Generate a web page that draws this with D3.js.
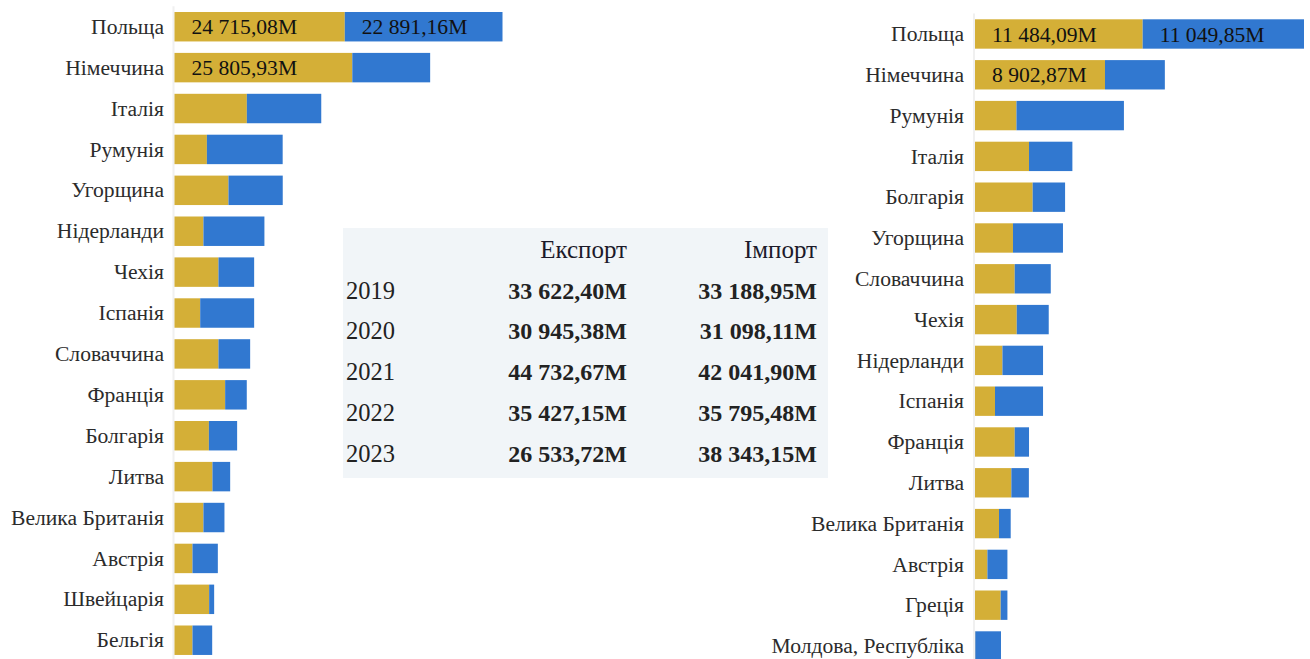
<!DOCTYPE html>
<html><head><meta charset="utf-8">
<script src="https://cdn.jsdelivr.net/npm/d3@7"></script>
<style>
html,body{margin:0;padding:0;background:#fff;}
svg{display:block;}
svg text{font-family:"Liberation Serif","Times New Roman",serif;}
</style></head>
<body>
<svg id="chart" width="1310" height="659"></svg>
<script>
// ---- Data ----
const leftCountries = ["Польща","Німеччина","Італія","Румунія","Угорщина","Нідерланди","Чехія","Іспанія","Словаччина","Франція","Болгарія","Литва","Велика Британія","Австрія","Швейцарія","Бельгія"];
const leftExport = [24715.08, 25805.93, 10500, 4700, 7830, 4200, 6380, 3730, 6380, 7350, 4990, 5510, 4200, 2610, 5030, 2610];
const leftImport = [22891.16, 11300, 10800, 11000, 7880, 8850, 5180, 7830, 4600, 3140, 4100, 2570, 3050, 3680, 725, 2860];

const rightCountries = ["Польща","Німеччина","Румунія","Італія","Болгарія","Угорщина","Словаччина","Чехія","Нідерланди","Іспанія","Франція","Литва","Велика Британія","Австрія","Греція","Молдова, Республіка"];
const rightExport = [11484.09, 8902.87, 2840, 3700, 3950, 2600, 2720, 2860, 1880, 1370, 2720, 2490, 1645, 850, 1760, 20];
const rightImport = [11049.85, 4100, 7360, 2970, 2220, 3425, 2470, 2190, 2780, 3290, 980, 1200, 800, 1370, 460, 1760];

const years = ["2019","2020","2021","2022","2023"];
const totalExport = [33622.40, 30945.38, 44732.67, 35427.15, 26533.72];
const totalImport = [33188.95, 31098.11, 42041.90, 35795.48, 38343.15];
const tableHeaders = ["Експорт","Імпорт"];

const colExport = "#d4af37";
const colImport = "#3178d0";

const loc = d3.formatLocale({decimal: ",", thousands: "\u00a0", grouping: [3]});
const fmt = v => loc.format(",.2f")(v) + "M";

const svg = d3.select("#chart");
const FONT = '"Liberation Serif", "Times New Roman", serif';

function drawChart(countries, exp, imp, x0, x1, y0, step, labelX) {
  const totals = countries.map((c,i) => exp[i] + imp[i]);
  const maxT = d3.max(totals);
  const x = d3.scaleLinear().domain([0, maxT]).range([x0, x1]);
  const po = 0.14, pi = 0.28;
  const y = d3.scaleBand().domain(countries)
    .range([y0 - po*step, y0 - po*step + countries.length*step])
    .paddingInner(pi).paddingOuter(po);
  const g = svg.append("g");
  g.append("line").attr("x1", x0 - 1).attr("x2", x0 - 1)
    .attr("y1", y.range()[0]).attr("y2", 659)
    .attr("stroke", "#f0f0f0").attr("stroke-width", 2);
  const ax = d3.axisLeft(y).tickSize(0).tickPadding(0);
  const axG = g.append("g").attr("transform", `translate(${labelX},0)`).call(ax);
  axG.select(".domain").remove();
  axG.attr("font-family", null).attr("font-size", null);
  axG.selectAll("text").style("font-family", FONT).style("font-size", "21.6px")
    .attr("fill", "#2b2b2b").attr("dy", "0.33em");
  const rows = countries.map((c,i) => ({c, e: exp[i], m: imp[i]}));
  g.selectAll(".ex").data(rows).join("rect")
    .attr("x", x(0)).attr("y", d => y(d.c))
    .attr("width", d => x(d.e) - x(0)).attr("height", y.bandwidth())
    .attr("fill", colExport);
  g.selectAll(".im").data(rows).join("rect")
    .attr("x", d => x(d.e)).attr("y", d => y(d.c))
    .attr("width", d => x(d.e + d.m) - x(d.e)).attr("height", y.bandwidth())
    .attr("fill", colImport);
  const segs = [];
  rows.forEach(d => {
    segs.push({c: d.c, a: 0, b: d.e, v: d.e});
    segs.push({c: d.c, a: d.e, b: d.e + d.m, v: d.m});
  });
  segs.forEach(s => {
    const w = x(s.b) - x(s.a);
    const t = g.append("text").text(fmt(s.v))
      .style("font-family", FONT).style("font-size", "21.6px").attr("fill", "#111")
      .attr("y", y(s.c) + y.bandwidth()/2).attr("dy", "0.35em");
    const tw = t.node().getComputedTextLength();
    if (tw + 24 > w) { t.remove(); return; }
    const off = Math.min(17, (w - tw)/2);
    t.attr("x", x(s.a) + off);
  });
}

drawChart(leftCountries, leftExport, leftImport, 174.5, 502.5, 12, 40.9, 164);
drawChart(rightCountries, rightExport, rightImport, 975, 1304, 19.3, 40.8, 964);

// ---- Summary table ----
const tg = svg.append("g");
tg.append("rect").attr("x", 343).attr("y", 228).attr("width", 485).attr("height", 250).attr("fill", "#f1f5f8");
const colX = [627, 817];
tableHeaders.forEach((h, j) => {
  tg.append("text").text(h).attr("x", colX[j]).attr("y", 258)
    .attr("text-anchor", "end").style("font-family", FONT).style("font-size", "25px").attr("fill", "#1c1a2a");
});
const rowY = d3.scaleLinear().domain([0, 1]).range([298.5, 339.3]);
years.forEach((yr, i) => {
  tg.append("text").text(yr).attr("x", 346).attr("y", rowY(i))
    .style("font-family", FONT).style("font-size", "24.5px").attr("fill", "#222");
  [totalExport[i], totalImport[i]].forEach((v, j) => {
    tg.append("text").text(fmt(v)).attr("x", colX[j]).attr("y", rowY(i))
      .attr("text-anchor", "end").style("font-family", FONT).style("font-size", "24px")
      .style("font-weight", "bold").attr("fill", "#222");
  });
});
</script>
</body></html>
